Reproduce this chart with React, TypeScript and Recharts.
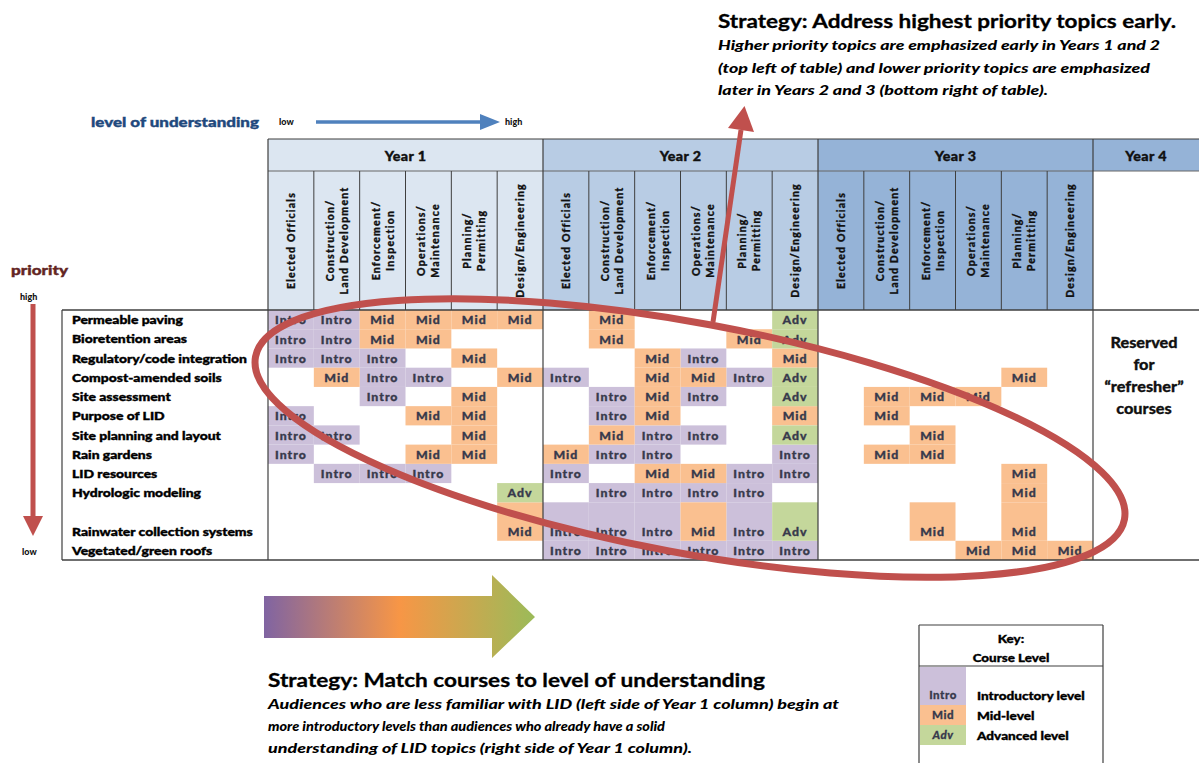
import React from "react";
import { ScatterChart, Scatter, XAxis, YAxis } from "recharts";

// ---------------- data ----------------
const years = ["Year 1", "Year 2", "Year 3", "Year 4"];
const audiences = [
  "Elected Officials",
  "Construction/\nLand Development",
  "Enforcement/\nInspection",
  "Operations/\nMaintenance",
  "Planning/\nPermitting",
  "Design/Engineering",
];
const topics = [
  "Permeable paving",
  "Bioretention areas",
  "Regulatory/code integration",
  "Compost-amended soils",
  "Site assessment",
  "Purpose of LID",
  "Site planning and layout",
  "Rain gardens",
  "LID resources",
  "Hydrologic modeling",
  "Rainwater collection systems",
  "Vegetated/green roofs",
];
// number of row units each topic occupies in the table
const topicRowUnits = [1, 1, 1, 1, 1, 1, 1, 1, 1, 1, 2, 1];
const levels = ["Intro", "Mid", "Adv"];
const levelLabels = ["Introductory level", "Mid-level", "Advanced level"];

const year1Levels = [
  ["Intro", "Intro", "Mid", "Mid", "Mid", "Mid"],
  ["Intro", "Intro", "Mid", "Mid", "", ""],
  ["Intro", "Intro", "Intro", "", "Mid", ""],
  ["", "Mid", "Intro", "Intro", "", "Mid"],
  ["", "", "Intro", "", "Mid", ""],
  ["Intro", "", "", "Mid", "Mid", ""],
  ["Intro", "Intro", "", "", "Mid", ""],
  ["Intro", "", "", "Mid", "Mid", ""],
  ["", "Intro", "Intro", "Intro", "", ""],
  ["", "", "", "", "", "Adv"],
  ["", "", "", "", "", "Mid"],
  ["", "", "", "", "", ""],
];
const year2Levels = [
  ["", "Mid", "", "", "", "Adv"],
  ["", "Mid", "", "", "Mid", "Adv"],
  ["", "", "Mid", "Intro", "", "Mid"],
  ["Intro", "", "Mid", "Mid", "Intro", "Adv"],
  ["", "Intro", "Mid", "Intro", "", "Adv"],
  ["", "Intro", "Mid", "", "", "Mid"],
  ["", "Mid", "Intro", "Intro", "", "Adv"],
  ["Mid", "Intro", "Intro", "", "", "Intro"],
  ["Intro", "", "Mid", "Mid", "Intro", "Intro"],
  ["", "Intro", "Intro", "Intro", "Intro", ""],
  ["Intro", "Intro", "Intro", "Mid", "Intro", "Adv"],
  ["Intro", "Intro", "Intro", "Intro", "Intro", "Intro"],
];
const year3Levels = [
  ["", "", "", "", "", ""],
  ["", "", "", "", "", ""],
  ["", "", "", "", "", ""],
  ["", "", "", "", "Mid", ""],
  ["", "Mid", "Mid", "Mid", "", ""],
  ["", "Mid", "", "", "", ""],
  ["", "", "Mid", "", "", ""],
  ["", "Mid", "Mid", "", "", ""],
  ["", "", "", "", "Mid", ""],
  ["", "", "", "", "Mid", ""],
  ["", "", "Mid", "", "Mid", ""],
  ["", "", "", "Mid", "Mid", "Mid"],
];
const yearGrids = [year1Levels, year2Levels, year3Levels];

// ---------------- styles / layout ----------------
const W = 1199;
const H = 763;
const FONT = "Lato, 'Open Sans', 'DejaVu Sans', sans-serif";
const HEAVY = 900;
const levelColors: Record<string, string> = { Intro: "#ccc0da", Mid: "#fac090", Adv: "#c4d79b" };
const yearColors = ["#dce6f1", "#b8cce4", "#95b3d7", "#95b3d7"];
const TABLE_LEFT = 62;
const GRID_LEFT = 268;
const GRID_RIGHT = 1093;
const YEAR_TOP = 139;
const COLHDR_TOP = 171;
const GRID_TOP = 310;
const GRID_BOTTOM = 560;
const LINE = "#3f3f3f";

const nCols = yearGrids.length * audiences.length;
const rowStarts: number[] = [];
topicRowUnits.reduce((acc, u) => {
  rowStarts.push(acc);
  return acc + u;
}, 0);
const nUnits = topicRowUnits.reduce((a, b) => a + b, 0);
const colW = (GRID_RIGHT - GRID_LEFT) / nCols;
const unitH = (GRID_BOTTOM - GRID_TOP) / nUnits;

type Pt = { x: number; y: number; span: number; level: string };
const points: Pt[] = [];
yearGrids.forEach((grid, yi) => {
  grid.forEach((row, ri) => {
    row.forEach((lv, ci) => {
      if (!lv) return;
      points.push({
        x: yi * audiences.length + ci + 0.5,
        y: rowStarts[ri] + topicRowUnits[ri] / 2,
        span: topicRowUnits[ri],
        level: lv,
      });
    });
  });
});
const colTicks = Array.from({ length: nCols }, (_, i) => i + 0.5);
const rowTicks = topics.map((_, i) => rowStarts[i] + topicRowUnits[i] - 0.5);

// horizontally stretched, slightly emboldened text (the reference is rendered wide and heavy)
const SText = ({ x, y, sx = 1, children, fill = "#000", bold = 0.35, ...rest }: any) => (
  <text
    transform={`translate(${x} ${y}) scale(${sx} 1)`}
    x={0}
    y={0}
    fontFamily={FONT}
    fill={fill}
    stroke={fill}
    strokeWidth={bold}
    {...rest}
  >
    {children}
  </text>
);

const CellShape = (props: any) => {
  const { cx, cy, payload } = props;
  if (cx == null || cy == null) return null;
  const h = unitH * payload.span;
  return (
    <g>
      <rect x={cx - colW / 2} y={cy - h / 2} width={colW} height={h} fill={levelColors[payload.level]} />
      <SText
        x={cx}
        y={cy + h / 2 - unitH / 2}
        sx={1.12}
        textAnchor="middle"
        dominantBaseline="central"
        fontSize={11}
        fontWeight={HEAVY}
        letterSpacing={0.9}
        fill="#383a4c"
        bold={0.3}
      >
        {payload.level}
      </SText>
    </g>
  );
};

const HeaderTick = (props: any) => {
  const { x, payload } = props;
  const idx = Math.round(payload.value - 0.5);
  const lines = audiences[idx % audiences.length].split("\n");
  const cy = (COLHDR_TOP + GRID_TOP) / 2;
  const gap = 14;
  return (
    <g>
      {lines.map((ln, i) => {
        const lx = x + (i - (lines.length - 1) / 2) * gap;
        return (
          <text
            key={i}
            x={lx}
            y={cy}
            transform={`rotate(-90 ${lx} ${cy})`}
            textAnchor="middle"
            dominantBaseline="central"
            fontFamily={FONT}
            fontSize={10.5}
            fontWeight={HEAVY}
            letterSpacing={1.2}
            fill="#111"
            stroke="#111"
            strokeWidth={0.3}
          >
            {ln}
          </text>
        );
      })}
    </g>
  );
};

const RowTick = (props: any) => {
  const { y, payload } = props;
  const idx = rowTicks.indexOf(payload.value);
  return (
    <SText x={TABLE_LEFT + 10} y={y} sx={1.16} dominantBaseline="central" fontSize={12} fontWeight={HEAVY} fill="#000" bold={0.4}>
      {idx >= 0 ? topics[idx] : ""}
    </SText>
  );
};

const T = (p: any) => <text fontFamily={FONT} {...p} />;

export default function App() {
  const yearX = (i: number) => GRID_LEFT + i * audiences.length * colW;
  const sepXs: number[] = [];
  for (let k = 1; k < nCols; k++) if (k % audiences.length !== 0) sepXs.push(GRID_LEFT + k * colW);

  return (
    <div
      style={{
        position: "absolute",
        left: 0,
        top: 0,
        width: W,
        height: H,
        background: "#fff",
        overflow: "hidden",
        fontFamily: FONT,
      }}
    >
      {/* header backgrounds */}
      <svg width={W} height={H} style={{ position: "absolute", left: 0, top: 0 }}>
        {years.map((yr, i) =>
          i < 3 ? (
            <rect key={yr} x={yearX(i)} y={YEAR_TOP} width={audiences.length * colW} height={GRID_TOP - YEAR_TOP} fill={yearColors[i]} />
          ) : (
            <rect key={yr} x={GRID_RIGHT} y={YEAR_TOP} width={W - GRID_RIGHT} height={COLHDR_TOP - YEAR_TOP} fill={yearColors[i]} />
          )
        )}
      </svg>

      <div style={{ position: "absolute", left: 0, top: 0 }}>
        <ScatterChart width={W} height={H} margin={{ top: COLHDR_TOP, right: W - GRID_RIGHT, bottom: H - GRID_BOTTOM, left: TABLE_LEFT }}>
          <XAxis
            type="number"
            dataKey="x"
            orientation="top"
            domain={[0, nCols]}
            ticks={colTicks}
            height={GRID_TOP - COLHDR_TOP}
            axisLine={false}
            tickLine={false}
            interval={0}
            allowDataOverflow
            tick={(p: any) => <HeaderTick {...p} />}
          />
          <YAxis
            type="number"
            dataKey="y"
            domain={[0, nUnits]}
            reversed
            ticks={rowTicks}
            width={GRID_LEFT - TABLE_LEFT}
            axisLine={false}
            tickLine={false}
            interval={0}
            allowDataOverflow
            tick={(p: any) => <RowTick {...p} />}
          />
          {levels.map((lv) => (
            <Scatter
              key={lv}
              name={lv}
              data={points.filter((p) => p.level === lv)}
              fill={levelColors[lv]}
              shape={CellShape}
              isAnimationActive={false}
            />
          ))}
        </ScatterChart>
      </div>

      {/* overlay: table lines, annotations */}
      <svg width={W} height={H} style={{ position: "absolute", left: 0, top: 0, pointerEvents: "none" }}>
        <defs>
          <linearGradient id="lvlGrad" gradientUnits="userSpaceOnUse" x1={264} y1={0} x2={535} y2={0}>
            <stop offset="0" stopColor="#8064a2" />
            <stop offset="0.5" stopColor="#f79646" />
            <stop offset="1" stopColor="#9bbb59" />
          </linearGradient>
        </defs>

        {/* year titles */}
        {years.map((yr, i) => {
          const x0 = i < 3 ? yearX(i) : GRID_RIGHT;
          const x1 = i < 3 ? yearX(i + 1) : W;
          return (
            <SText key={yr} x={(x0 + x1) / 2} y={(YEAR_TOP + COLHDR_TOP) / 2 + 1} sx={1.1} textAnchor="middle" dominantBaseline="central" fontSize={13} fontWeight={HEAVY} letterSpacing={0.3} fill="#111">
              {yr}
            </SText>
          );
        })}

        {/* table lines */}
        <g stroke={LINE} strokeWidth={1.2}>
          <line x1={GRID_LEFT} y1={YEAR_TOP} x2={W} y2={YEAR_TOP} />
          <line x1={GRID_LEFT} y1={COLHDR_TOP} x2={W} y2={COLHDR_TOP} stroke="#666" strokeWidth={1} />
          <line x1={TABLE_LEFT} y1={GRID_TOP} x2={W} y2={GRID_TOP} strokeWidth={1.6} />
          <line x1={TABLE_LEFT} y1={GRID_BOTTOM} x2={W} y2={GRID_BOTTOM} strokeWidth={1.6} />
          <line x1={TABLE_LEFT} y1={GRID_TOP} x2={TABLE_LEFT} y2={GRID_BOTTOM} />
          {[0, 1, 2, 3].map((i) => (
            <line key={i} x1={yearX(i)} y1={YEAR_TOP} x2={yearX(i)} y2={GRID_BOTTOM} />
          ))}
          {sepXs.map((x, i) => (
            <line key={"s" + i} x1={x} y1={COLHDR_TOP} x2={x} y2={GRID_TOP} strokeWidth={1} />
          ))}
        </g>

        {/* Year 4 note */}
        {["Reserved", "for", "\u201Crefresher\u201D", "courses"].map((s, i) => (
          <SText key={s} x={1144} y={342 + i * 22} sx={1.05} textAnchor="middle" dominantBaseline="central" fontSize={15.5} fontWeight={HEAVY} fill="#111" bold={0.3}>
            {s}
          </SText>
        ))}

        {/* level of understanding */}
        <T x={91} y={127} fontSize={14} fontWeight={HEAVY} fill="#1f497d" stroke="#1f497d" strokeWidth={0.4} textLength={168} lengthAdjust="spacingAndGlyphs">
          level of understanding
        </T>
        <T x={279} y={125} fontSize={9} fontWeight={HEAVY} fill="#111">low</T>
        <line x1={316} y1={122} x2={484} y2={122} stroke="#4f81bd" strokeWidth={3.5} />
        <polygon points="480,114 500,122 480,130" fill="#4f81bd" />
        <T x={505} y={125} fontSize={9} fontWeight={HEAVY} fill="#111">high</T>

        {/* priority */}
        <T x={11} y={275} fontSize={14} fontWeight={HEAVY} fill="#632523" stroke="#632523" strokeWidth={0.4} textLength={57} lengthAdjust="spacingAndGlyphs">
          priority
        </T>
        <T x={20} y={300} fontSize={9} fontWeight={HEAVY} fill="#111">high</T>
        <line x1={33} y1={304} x2={33} y2={520} stroke="#c0504d" strokeWidth={5} />
        <polygon points="23,516 43,516 33,536" fill="#c0504d" />
        <T x={22} y={555} fontSize={9} fontWeight={HEAVY} fill="#111">low</T>

        {/* red ellipse */}
        <ellipse cx={690} cy={438} rx={442} ry={115} transform="rotate(10.6 690 438)" fill="none" stroke="#c0504d" strokeWidth={7} />
        {/* pointer arrow */}
        <line x1={713} y1={322} x2={741} y2={130} stroke="#c0504d" strokeWidth={5} />
        <polygon points="754,132 728,128 744.5,106" fill="#c0504d" />

        {/* top right strategy */}
        <T x={718} y={28} fontSize={19} fontWeight="bold" fill="#000" stroke="#000" strokeWidth={0.3} textLength={458} lengthAdjust="spacingAndGlyphs">
          Strategy: Address highest priority topics early.
        </T>
        <T x={718} y={50} fontSize={14} fontWeight={HEAVY} fontStyle="italic" fill="#000" textLength={442} lengthAdjust="spacingAndGlyphs">
          Higher priority topics are emphasized early in Years 1 and 2
        </T>
        <T x={718} y={73} fontSize={14} fontWeight={HEAVY} fontStyle="italic" fill="#000" textLength={432} lengthAdjust="spacingAndGlyphs">
          (top left of table) and lower priority topics are emphasized
        </T>
        <T x={718} y={95} fontSize={14} fontWeight={HEAVY} fontStyle="italic" fill="#000" textLength={330} lengthAdjust="spacingAndGlyphs">
          later in Years 2 and 3 (bottom right of table).
        </T>

        {/* gradient arrow */}
        <polygon points="264,596 492,596 492,575 535,617 492,658 492,638 264,638" fill="url(#lvlGrad)" />

        {/* bottom strategy */}
        <T x={268} y={687} fontSize={19} fontWeight="bold" fill="#000" stroke="#000" strokeWidth={0.3} textLength={497} lengthAdjust="spacingAndGlyphs">
          Strategy: Match courses to level of understanding
        </T>
        <T x={268} y={709} fontSize={14} fontWeight={HEAVY} fontStyle="italic" fill="#000" textLength={571} lengthAdjust="spacingAndGlyphs">
          Audiences who are less familiar with LID (left side of Year 1 column) begin at
        </T>
        <T x={268} y={731} fontSize={14} fontWeight={HEAVY} fontStyle="italic" fill="#000" textLength={397} lengthAdjust="spacingAndGlyphs">
          more introductory levels than audiences who already have a solid
        </T>
        <T x={268} y={753} fontSize={14} fontWeight={HEAVY} fontStyle="italic" fill="#000" textLength={424} lengthAdjust="spacingAndGlyphs">
          understanding of LID topics (right side of Year 1 column).
        </T>

        {/* key */}
        <g stroke={LINE} strokeWidth={1.2}>
          <line x1={919} y1={625} x2={1103} y2={625} />
          <line x1={919} y1={666} x2={1103} y2={666} />
          <line x1={919} y1={625} x2={919} y2={H} />
          <line x1={1103} y1={625} x2={1103} y2={H} />
        </g>
        <SText x={1011} y={638} sx={1.12} textAnchor="middle" dominantBaseline="central" fontSize={12} fontWeight={HEAVY} fill="#000">Key:</SText>
        <SText x={1011} y={657} sx={1.12} textAnchor="middle" dominantBaseline="central" fontSize={12} fontWeight={HEAVY} fill="#000">Course Level</SText>
        {levels.map((lv, i) => {
          const top = i === 0 ? 667 : 705 + (i - 1) * 20;
          const bottom = 705 + i * 20;
          return (
            <g key={lv}>
              <rect x={920} y={top} width={46} height={bottom - top} fill={levelColors[lv]} />
              <SText x={943} y={bottom - 10} sx={1.05} textAnchor="middle" dominantBaseline="central" fontSize={11} fontWeight={HEAVY} letterSpacing={0.5} fill="#383a4c" bold={0.25} fontStyle={lv === "Adv" ? "italic" : "normal"}>
                {lv}
              </SText>
              <SText x={977} y={bottom - 10} sx={1.13} dominantBaseline="central" fontSize={12} fontWeight={HEAVY} fill="#000">
                {levelLabels[i]}
              </SText>
            </g>
          );
        })}
      </svg>
    </div>
  );
}
